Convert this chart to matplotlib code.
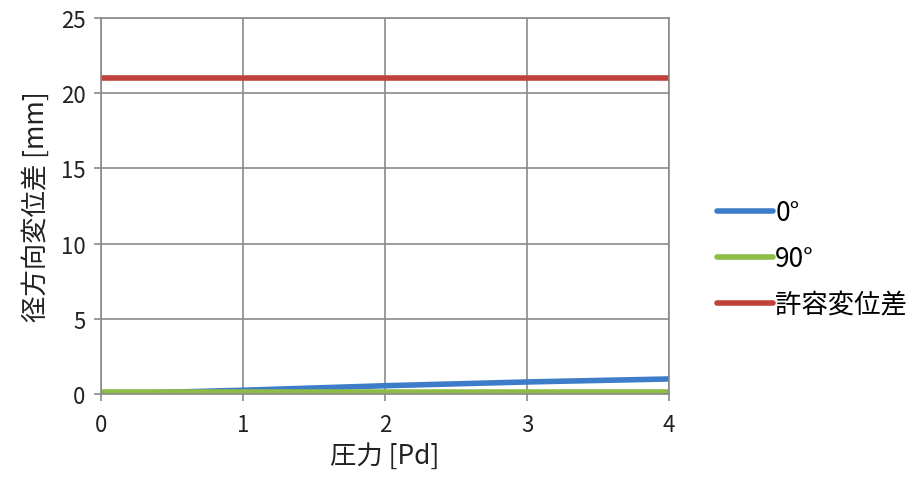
import matplotlib
matplotlib.use('Agg')
import matplotlib.pyplot as plt

plt.rcParams['font.family'] = ['Noto Sans CJK JP', 'DejaVu Sans']

# data
pressure = [0, 1, 2, 3, 4]
disp_0deg = [0.0, 0.25, 0.55, 0.8, 1.0]
disp_90deg = [0.1, 0.1, 0.1, 0.1, 0.1]
allowable = [21, 21, 21, 21, 21]

labels = ['0°', '90°', '許容変位差']
colors = ['#3d7cc9', '#8dbd45', '#c0403a']

fig = plt.figure(figsize=(9.2, 4.81), dpi=100)
ax = fig.add_axes([0.1098, 0.1788, 0.6174, 0.7817])

ax.plot(pressure, disp_0deg, color=colors[0], linewidth=4, label=labels[0], solid_capstyle='round')
ax.plot(pressure, disp_90deg, color=colors[1], linewidth=4, label=labels[1], solid_capstyle='round')
ax.plot(pressure, allowable, color=colors[2], linewidth=4, label=labels[2], solid_capstyle='round')

ax.set_xlim(0, 4)
ax.set_ylim(0, 25)
ax.set_xticks([0, 1, 2, 3, 4])
ax.set_yticks([0, 5, 10, 15, 20, 25])
ax.grid(color='#8a8a8a', linewidth=1.2)
for s in ax.spines.values():
    s.set_color('#8a8a8a')
    s.set_linewidth(1.2)
ax.tick_params(colors='#8a8a8a', labelcolor='#222222', labelsize=16, length=5, width=1.2)
ax.tick_params(axis='x', pad=9)
ax.tick_params(axis='y', pad=6)
ax.set_xlabel('圧力 [Pd]', fontsize=19, color='#222222', labelpad=4)
ax.set_ylabel('径方向変位差 [mm]', fontsize=19, color='#222222', labelpad=8)

ax.legend(loc='center left', bbox_to_anchor=(1.043, 0.36), frameon=False, fontsize=19,
          handlelength=2.1, handletextpad=0.1, labelspacing=0.72)

fig.savefig('out.png', dpi=100)
